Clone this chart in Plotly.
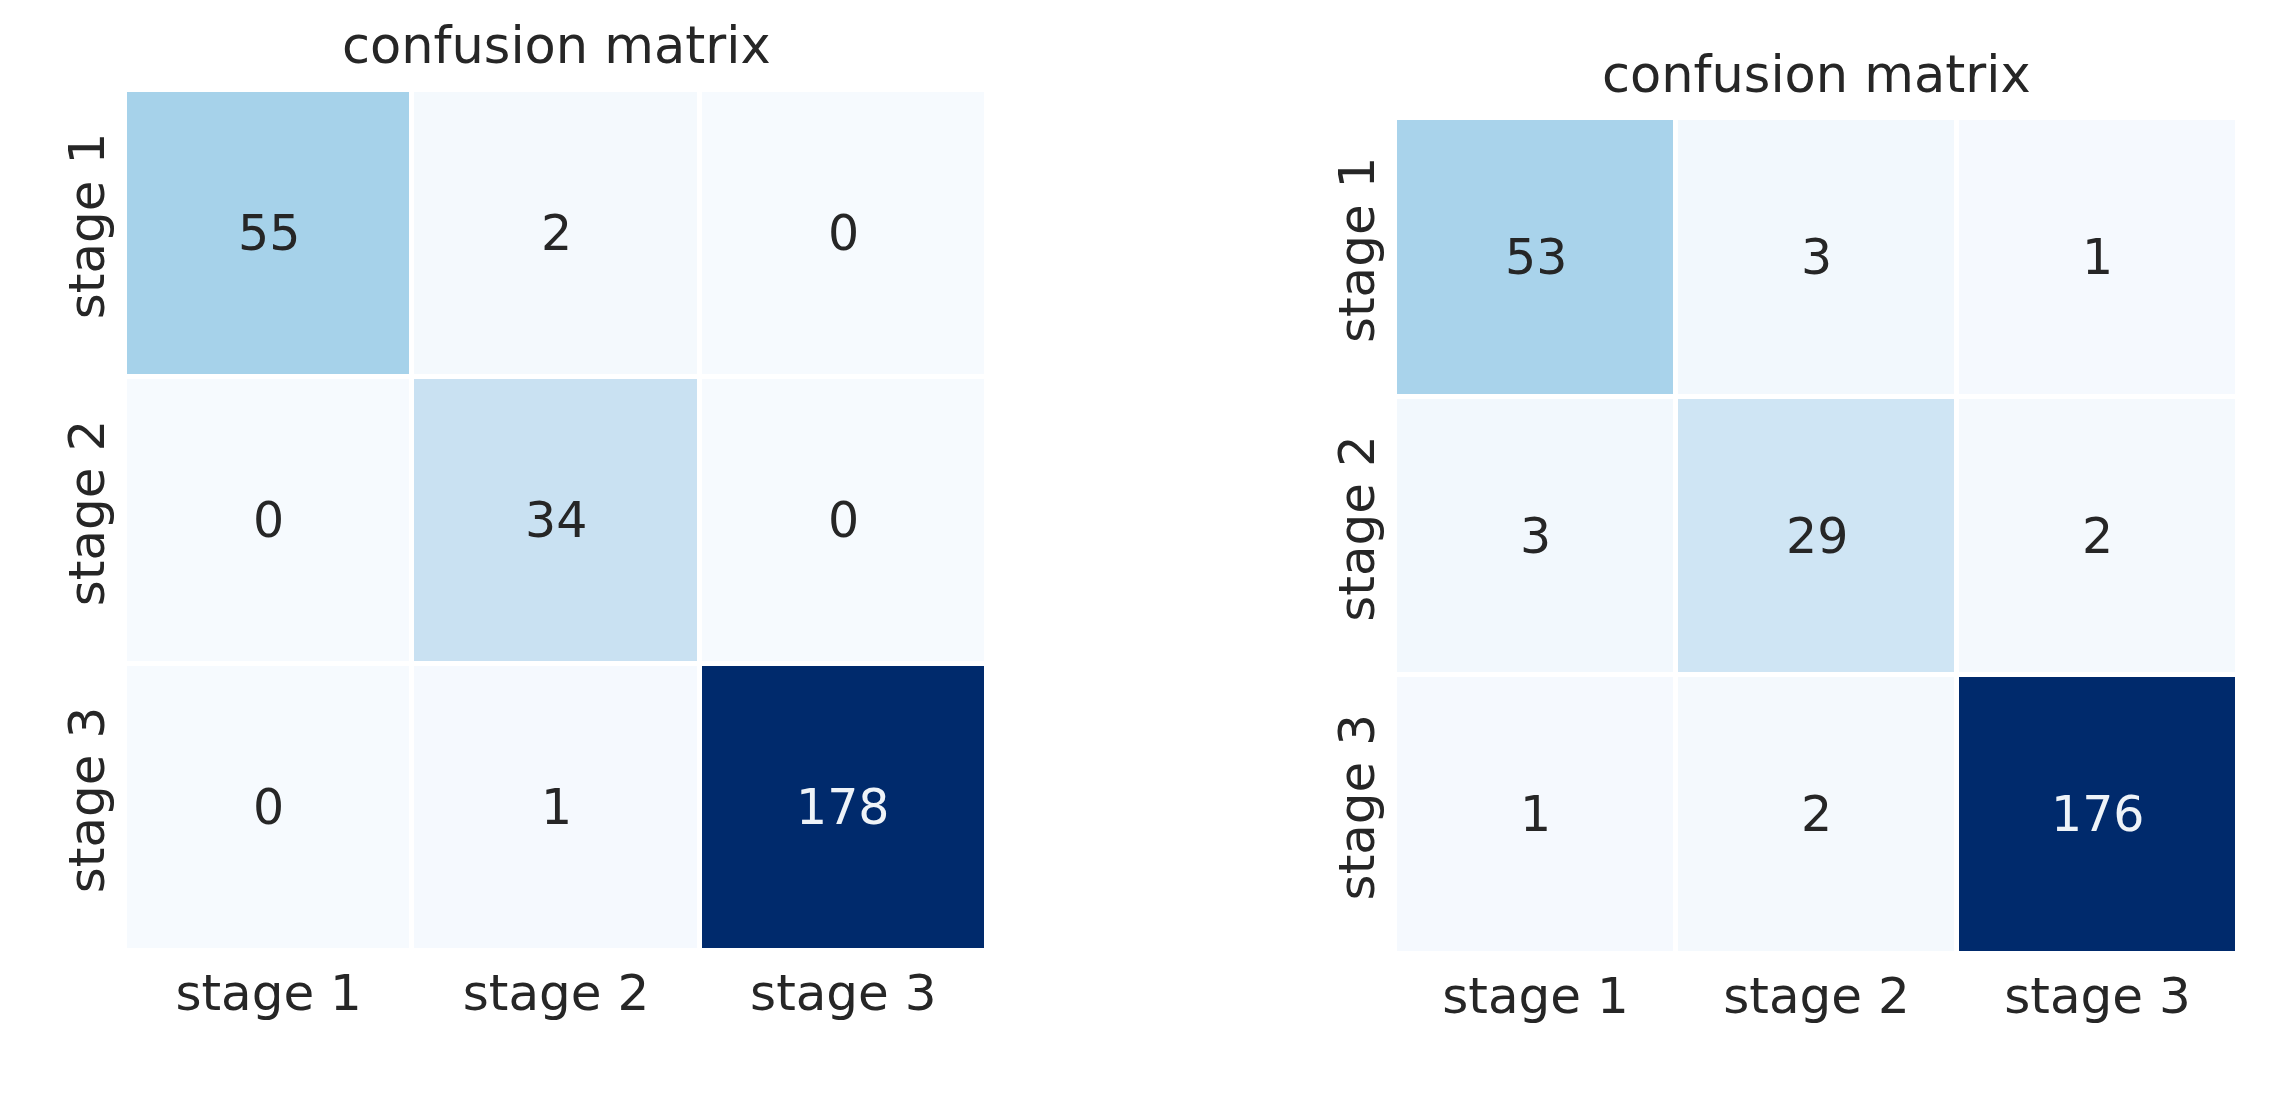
import plotly.graph_objects as go

# ---- data ----
labels = ["stage 1", "stage 2", "stage 3"]
cm_left = [[55, 2, 0],
           [0, 34, 0],
           [0, 1, 178]]
cm_right = [[53, 3, 1],
            [3, 29, 2],
            [1, 2, 176]]
titles = ["confusion matrix", "confusion matrix"]

W, H = 2277, 1102
blues = [[0.0, "#f6fafe"], [0.1, "#e0eef9"], [0.19, "#c9e1f2"], [0.31, "#a6d2ea"],
         [0.45, "#76b7db"], [0.6, "#4692c6"], [0.75, "#1f6bb0"], [0.875, "#08489a"],
         [1.0, "#002a6c"]]

# pixel boxes of the two heatmaps (left, top, right, bottom)
boxes = [(125, 90, 987, 951), (1395, 118, 2238, 954)]

fig = go.Figure()
FONT = "DejaVu Sans"
TXT = "#262626"

for i, (cm, box, title) in enumerate(zip([cm_left, cm_right], boxes, titles)):
    xa = "x" if i == 0 else "x2"
    ya = "y" if i == 0 else "y2"
    zmax = max(max(r) for r in cm)
    fig.add_trace(go.Heatmap(
        z=cm, x=labels, y=labels, colorscale=blues, zmin=0, zmax=zmax,
        showscale=False, xgap=5, ygap=5, xaxis=xa, yaxis=ya, hoverinfo="skip"))
    l, t, r, b = box
    dom_x = [l / W, r / W]
    dom_y = [1 - b / H, 1 - t / H]
    axkey = "xaxis" if i == 0 else "xaxis2"
    aykey = "yaxis" if i == 0 else "yaxis2"
    fig.update_layout(**{
        axkey: dict(domain=dom_x, anchor=ya, showgrid=False, zeroline=False,
                    showline=False, ticks="", tickfont=dict(size=50, color=TXT, family=FONT),
                    ticklabelstandoff=8),
        aykey: dict(domain=dom_y, anchor=xa, autorange="reversed", showgrid=False,
                    zeroline=False, showline=False, ticks="", tickangle=-90,
                    tickfont=dict(size=50, color=TXT, family=FONT), ticklabelstandoff=10),
    })
    for ri, row in enumerate(cm):
        for ci, v in enumerate(row):
            fig.add_annotation(x=labels[ci], y=labels[ri], xref=xa, yref=ya,
                               text=str(v), showarrow=False,
                               font=dict(size=49, family=FONT,
                                         color="#eef3f8" if v / zmax > 0.6 else TXT))
    fig.add_annotation(x=(l + r) / 2 / W, y=1 - (t - 44) / H, xref="paper", yref="paper",
                       text=title, showarrow=False, xanchor="center", yanchor="middle",
                       font=dict(size=51, family=FONT, color=TXT))

fig.update_layout(width=W, height=H, margin=dict(l=0, r=0, t=0, b=0),
                  paper_bgcolor="white", plot_bgcolor="white")
fig.write_html("out.html", config={"displayModeBar": False},
               post_script="document.body.style.margin='0';document.body.style.overflow='hidden';")
